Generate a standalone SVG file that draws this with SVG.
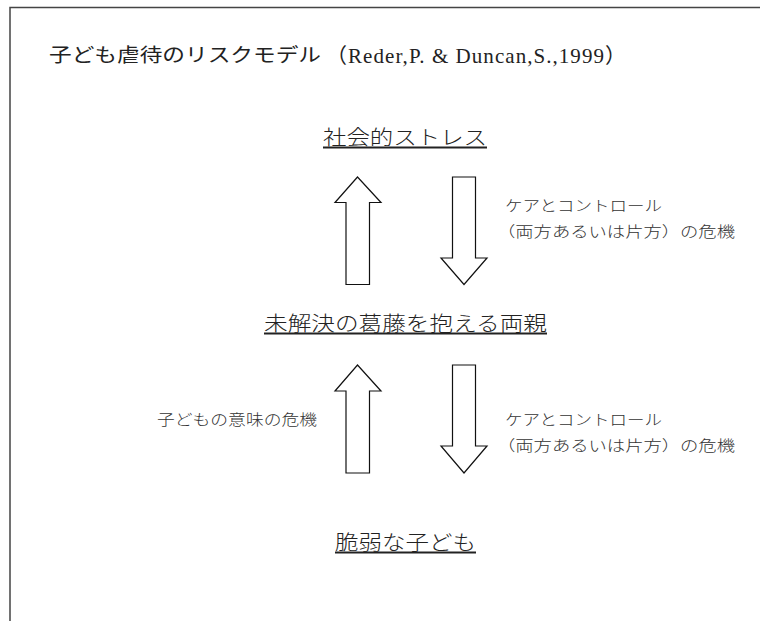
<svg xmlns="http://www.w3.org/2000/svg" width="760" height="621" viewBox="0 0 760 621">
<style>
.jp{font-family:"Noto Sans CJK JP","Noto Sans",sans-serif;fill:#222;font-weight:300;}
.node{font-size:20px;}
.lbl{font-size:15px;fill:#333;}
.ul{stroke:#222;stroke-width:2;}
.arrow{fill:#fff;stroke:#111;stroke-width:1.2;stroke-linejoin:miter;}
.frame{stroke:#444;stroke-width:1.5;fill:none;}
</style>
<rect width="760" height="621" fill="#fff"/>
<path class="frame" d="M10,621 V7.5 H760"/>
<g id="title">
<text class="jp" x="49" y="62" font-size="19" style="font-weight:400" textLength="272" lengthAdjust="spacingAndGlyphs">子ども虐待のリスクモデル</text>
<text x="326" y="63" font-family="'Liberation Serif','Noto Sans CJK JP',serif" font-size="21" fill="#222" textLength="300" lengthAdjust="spacing">（Reder,P. &amp; Duncan,S.,1999）</text>
</g>
<g id="node-social-stress">
<text class="jp node" x="323" y="145" textLength="164" lengthAdjust="spacingAndGlyphs">社会的ストレス</text>
<line class="ul" x1="323" y1="147.5" x2="487" y2="147.5"/>
</g>
<g id="node-parents">
<text class="jp node" x="264" y="331" textLength="283" lengthAdjust="spacingAndGlyphs">未解決の葛藤を抱える両親</text>
<line class="ul" x1="264" y1="333.5" x2="547" y2="333.5"/>
</g>
<g id="node-child">
<text class="jp node" x="335" y="550" textLength="141" lengthAdjust="spacingAndGlyphs">脆弱な子ども</text>
<line class="ul" x1="335" y1="552.5" x2="476" y2="552.5"/>
</g>
<g id="connectors">
<polygon class="arrow" points="357.5,177 381,202.5 369.5,202.5 369.5,284.5 346,284.5 346,202.5 335,202.5"/>
<polygon class="arrow" points="452.5,177 475.5,177 475.5,258 487,258 464,284.5 441,258 452.5,258"/>
<polygon class="arrow" points="357.5,365 381,391 369.5,391 369.5,473 346,473 346,391 335,391"/>
<polygon class="arrow" points="452.5,365 475.5,365 475.5,446 487,446 464,473 441,446 452.5,446"/>
</g>
<g id="label-care-control-1">
<text class="jp lbl" x="505" y="211" textLength="157" lengthAdjust="spacingAndGlyphs">ケアとコントロール</text>
<text class="jp lbl" x="497" y="237" textLength="238" lengthAdjust="spacingAndGlyphs">（両方あるいは片方）の危機</text>
</g>
<g id="label-child-meaning">
<text class="jp lbl" x="157" y="425" textLength="160" lengthAdjust="spacingAndGlyphs">子どもの意味の危機</text>
</g>
<g id="label-care-control-2">
<text class="jp lbl" x="505" y="425" textLength="157" lengthAdjust="spacingAndGlyphs">ケアとコントロール</text>
<text class="jp lbl" x="497" y="451" textLength="238" lengthAdjust="spacingAndGlyphs">（両方あるいは片方）の危機</text>
</g>
</svg>
